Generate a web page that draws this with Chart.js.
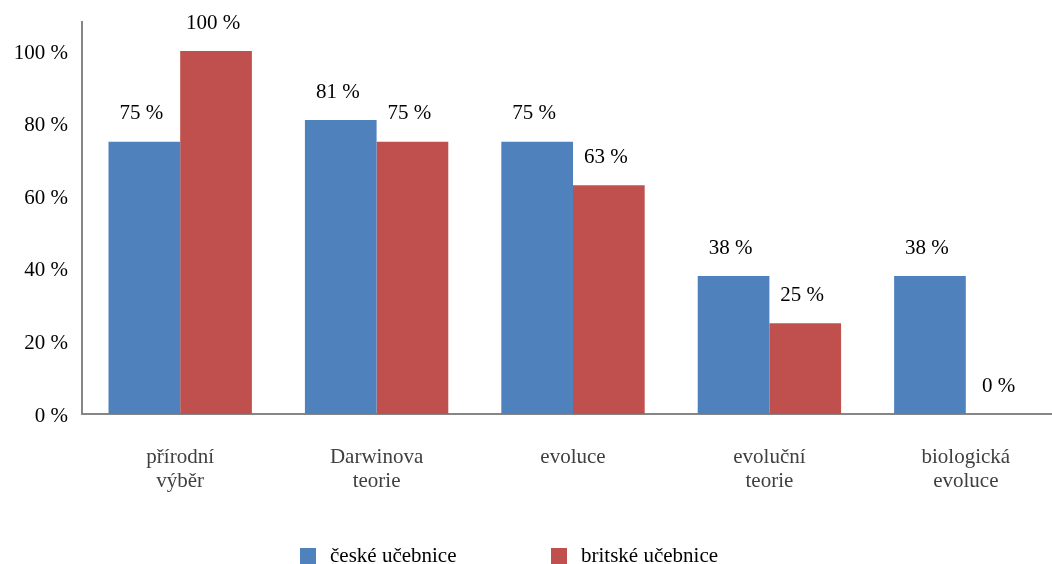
<!DOCTYPE html>
<html>
<head>
<meta charset="utf-8">
<script src="https://cdn.jsdelivr.net/npm/chart.js@4.4.1/dist/chart.umd.min.js"></script>
<style>
  html, body { margin: 0; padding: 0; background: #ffffff; overflow: hidden; }
  #wrap { position: absolute; left: 0; top: 0; }
</style>
</head>
<body>
<div id="wrap"><canvas id="c" width="1070" height="564"></canvas></div>
<script>
const categories = [
  ["přírodní", "výběr"],
  ["Darwinova", "teorie"],
  ["evoluce"],
  ["evoluční", "teorie"],
  ["biologická", "evoluce"]
];
const seriesNames = ["české učebnice", "britské učebnice"];
const czechValues = [75, 81, 75, 38, 38];
const britishValues = [100, 75, 63, 25, 0];
const yTicks = [0, 20, 40, 60, 80, 100];

const FONT = "'Liberation Serif', 'Times New Roman', serif";
const BLUE = "#4F81BD";
const RED = "#C0504D";

const valueLabels = {
  id: 'valueLabels',
  afterDatasetsDraw(chart) {
    const ctx = chart.ctx;
    ctx.save();
    ctx.font = "21px " + FONT;
    ctx.fillStyle = "#000000";
    ctx.textAlign = "center";
    ctx.textBaseline = "middle";
    chart.data.datasets.forEach((ds, di) => {
      const meta = chart.getDatasetMeta(di);
      meta.data.forEach((el, i) => {
        const v = ds.data[i];
        ctx.fillText(v + " %", el.x - 3, el.y - 28);
      });
    });
    ctx.restore();
  }
};

const customLegend = {
  id: 'customLegend',
  afterDraw(chart) {
    const ctx = chart.ctx;
    ctx.save();
    ctx.font = "21px " + FONT;
    ctx.textBaseline = "middle";
    ctx.textAlign = "left";
    const starts = [300, 551];
    const yMid = 556;
    chart.data.datasets.forEach((ds, i) => {
      const x = starts[i];
      ctx.fillStyle = ds.backgroundColor;
      ctx.fillRect(x, yMid - 8, 16, 16);
      ctx.fillStyle = "#000000";
      ctx.fillText(ds.label, x + 30, yMid);
    });
    ctx.restore();
  }
};

new Chart(document.getElementById('c'), {
  type: 'bar',
  data: {
    labels: categories,
    datasets: [
      { label: seriesNames[0], data: czechValues, backgroundColor: BLUE, borderWidth: 0 },
      { label: seriesNames[1], data: britishValues, backgroundColor: RED, borderWidth: 0 }
    ]
  },
  options: {
    responsive: false,
    animation: false,
    devicePixelRatio: 1,
    layout: { padding: { top: 22, right: 6, left: 0, bottom: 0 } },
    datasets: { bar: { categoryPercentage: 0.73, barPercentage: 1.0 } },
    plugins: {
      legend: { display: false },
      tooltip: { enabled: false },
      title: { display: false }
    },
    scales: {
      x: {
        grid: { display: false, drawTicks: false },
        border: { display: true, color: "#868686", width: 2 },
        ticks: {
          color: "#404040",
          padding: 31,
          maxRotation: 0,
          autoSkip: false,
          font: { family: FONT, size: 21, lineHeight: 1.15 }
        },
        afterFit(scale) { scale.height = 150; }
      },
      y: {
        min: 0,
        max: 108,
        grid: { display: false, drawTicks: false },
        border: { display: true, color: "#868686", width: 2 },
        afterBuildTicks(scale) { scale.ticks = yTicks.map(v => ({ value: v })); },
        ticks: {
          color: "#000000",
          padding: 14,
          labelOffset: 2,
          font: { family: FONT, size: 21 },
          callback: (v) => v + " %"
        },
        afterFit(scale) { scale.width = 82; scale.paddingTop = 0; scale.paddingBottom = 0; }
      }
    }
  },
  plugins: [valueLabels, customLegend]
});
</script>
</body>
</html>
